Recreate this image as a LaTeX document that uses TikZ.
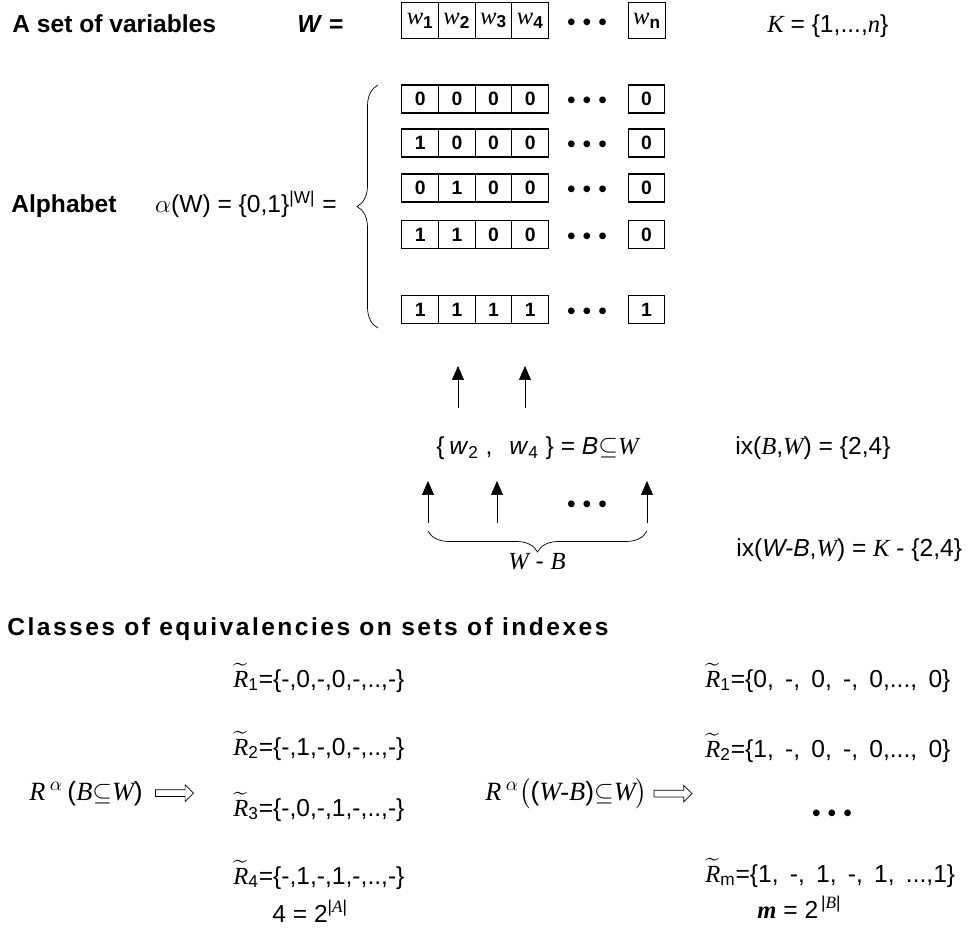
\documentclass[tikz,border=0pt]{standalone}
\usepackage{amsmath}
\usepackage{fontspec}
\setmainfont{Liberation Sans}
\newfontfamily\tms{Liberation Serif}
\newfontfamily\spc[LetterSpace=10]{Liberation Sans}
\usetikzlibrary{positioning,arrows.meta,shapes.arrows,decorations.pathreplacing}
\newcommand{\vi}[1]{{\tms\itshape #1}}
\newcommand{\tR}{$\widetilde{\mbox{\tms\itshape R}}$}
\newcommand{\dotz}{\textbullet\hspace{4pt}\textbullet\hspace{4pt}\textbullet}
\newcommand{\wsp}{\hspace{2.5pt} }

\begin{document}
\begin{tikzpicture}[x=0.02cm,y=-0.02cm,font=\fontsize{14}{16}\selectfont]
  \tikzstyle{every node}=[inner sep=0pt]
  \tikzstyle{hdr}=[anchor=base west,font=\fontsize{14}{16}\selectfont\bfseries]
  \tikzstyle{txt}=[anchor=base west]
  \tikzstyle{rel}=[anchor=base west,font=\fontsize{15}{17}\selectfont]
  \tikzstyle{wcell}=[draw,line width=0.6pt,minimum width=0.734cm,minimum height=0.72cm]
  \tikzstyle{cell}=[draw,line width=0.6pt,minimum width=0.734cm,minimum height=0.56cm,font=\fontsize{11}{13}\selectfont\bfseries]
  \tikzstyle{up}=[-{Triangle[length=0.28cm,width=0.24cm]}]
  \tikzstyle{curly}=[decorate,decoration={brace,amplitude=0.42cm}]
  \tikzstyle{hollow}=[single arrow,draw,minimum height=0.76cm,inner sep=0.06cm,single arrow head extend=0.1cm]
  \useasboundingbox (0,0) rectangle (971,929);

  % the set of variables
  \node[hdr] (T_vars) at (12,33) {A set of variables};
  \node[txt] (W_eq) at (297,33) {\textbf{\textit{W} =}};
  \foreach \i in {1,...,4}
    \node[wcell] (W_\i) at ({383.5+36.7*\i},20.5) {\vi{w}\textsubscript{\textbf{\i}}};
  \node (W_dots) at (587,25) {\dotz};
  \node[wcell] (W_n) at (647,20.5) {\vi{w}\textsubscript{\textbf{n}}};
  \node[txt] (K_set) at (767,33) {\vi{K} = \{1,...,\vi{n}\}};

  % the alphabet
  \node[hdr] (T_alph) at (11,213) {Alphabet};
  \node[anchor=base east] (alpha_W) at (337,213) {$\alpha$(W) = \{0,1\}\textsuperscript{|W|} =};
  \foreach \ry/\a/\b/\c/\d/\e [count=\r] in {99/0/0/0/0/0,143/1/0/0/0/0,188/0/1/0/0/0,234.5/1/1/0/0/0,309.5/1/1/1/1/1}{
    \node[cell] (A_\r_1) at (420.2,\ry) {\a};
    \node[cell] (A_\r_2) at (456.9,\ry) {\b};
    \node[cell] (A_\r_3) at (493.6,\ry) {\c};
    \node[cell] (A_\r_4) at (530.3,\ry) {\d};
    \node (A_\r_dots) at (587,\ry+4) {\dotz};
    \node[cell] (A_\r_n) at (646.5,\ry) {\e};
  }
  \coordinate (br_top) at (378,85);
  \coordinate (br_bot) at (378,328);
  \draw[curly] (br_bot) -- (br_top);

  % the subset B
  \coordinate (B_2_foot) at (458,408);
  \coordinate (B_2_tip) at (458,366);
  \coordinate (B_4_foot) at (525,408);
  \coordinate (B_4_tip) at (525,366);
  \draw[up] (B_2_foot) -- (B_2_tip);
  \draw[up] (B_4_foot) -- (B_4_tip);
  \node[txt] (B_open) at (436,455) {\{};
  \node[txt] (B_w2) at (449,455) {\textit{w}\textsubscript{2} ,};
  \node[txt] (B_w4) at (509,455) {\textit{w}\textsubscript{4} \} = \textit{B}$\subseteq$\vi{W}};
  \node[txt] (ix_B) at (735,455) {ix(\vi{B},\vi{W}) = \{2,4\}};

  % the rest W-B
  \coordinate (R_1_foot) at (428,523);
  \coordinate (R_1_tip) at (428,481);
  \coordinate (R_2_foot) at (497,523);
  \coordinate (R_2_tip) at (497,481);
  \coordinate (R_n_foot) at (647,523);
  \coordinate (R_n_tip) at (647,481);
  \draw[up] (R_1_foot) -- (R_1_tip);
  \draw[up] (R_2_foot) -- (R_2_tip);
  \draw[up] (R_n_foot) -- (R_n_tip);
  \node (R_dots) at (587,507) {\dotz};
  \draw[curly] (R_n_foot |- 0,531) -- (R_1_foot |- 0,531);
  \node[anchor=base] (W_minus_B) at (537,569) {\vi{W} - \vi{B}};
  \node[txt] (ix_WB) at (736,556) {ix(\textit{W-B},\vi{W}) = \vi{K} - \{2,4\}};

  % classes of equivalencies
  \node[hdr,font=\spc\fontsize{14}{16}\selectfont\bfseries] (T_class) at (7,635) {Classes of equivalencies on sets of indexes};
  \node[txt] (L_1) at (233,687) {\tR\textsubscript{1}=\{-,0,-,0,-,..,-\}};
  \node[txt] (L_2) at (233,755) {\tR\textsubscript{2}=\{-,1,-,0,-,..,-\}};
  \node[txt] (L_3) at (233,816) {\tR\textsubscript{3}=\{-,0,-,1,-,..,-\}};
  \node[txt] (L_4) at (233,884) {\tR\textsubscript{4}=\{-,1,-,1,-,..,-\}};
  \node[txt] (L_cnt) at (272,922) {4 = 2\textsuperscript{|\vi{A}|}};
  \node[rel] (rel_B) at (29,800) {\vi{R}\,$^{\alpha}$\,(\vi{B}$\subseteq$\vi{W})};
  \node[hollow,right=0.24cm of rel_B] (impl_B) {};

  \node[txt] (Q_1) at (705,687) {\tR\textsubscript{1}=\{0,\wsp-,\wsp0,\wsp-,\wsp0,...,\wsp0\}};
  \node[txt] (Q_2) at (705,757) {\tR\textsubscript{2}=\{1,\wsp-,\wsp0,\wsp-,\wsp0,...,\wsp0\}};
  \node (Q_dots) at (832,816) {\dotz};
  \node[txt] (Q_m) at (705,882) {\tR\textsubscript{m}=\{1,\wsp-,\wsp1,\wsp-,\wsp1,\wsp...,1\}};
  \node[txt] (Q_cnt) at (757,918) {{\tms\bfseries\itshape m} = 2\textsuperscript{\,|\vi{B}|}};
  \node[rel] (rel_WB) at (485,800) {\vi{R}\,$^{\alpha}\bigl($(\vi{W-B})$\subseteq$\vi{W}$\bigr)$};
  \node[hollow,right=0.12cm of rel_WB] (impl_WB) {};
\end{tikzpicture}
\end{document}
